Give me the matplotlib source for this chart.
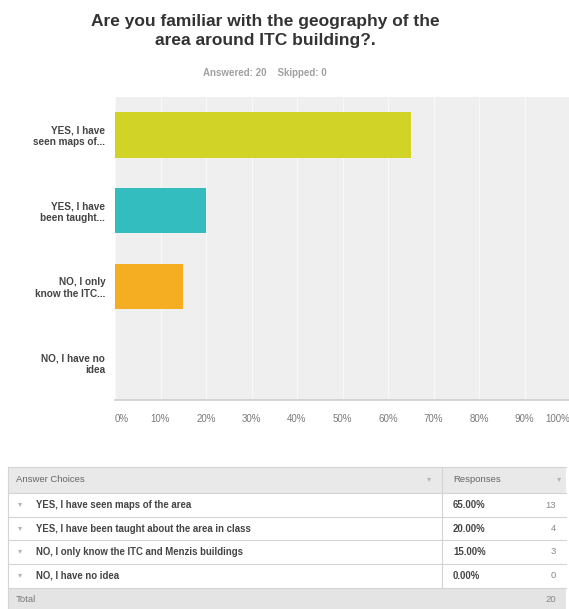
import matplotlib.pyplot as plt
from matplotlib.patches import Rectangle

plt.rcParams['font.family'] = ['Liberation Sans', 'DejaVu Sans']

W, H = 569, 609

title = 'Are you familiar with the geography of the\narea around ITC building?.'
subtitle = 'Answered: 20    Skipped: 0'

short_labels = ['YES, I have\nseen maps of...', 'YES, I have\nbeen taught...',
                'NO, I only\nknow the ITC...', 'NO, I have no\nidea']
full_labels = ['YES, I have seen maps of the area',
               'YES, I have been taught about the area in class',
               'NO, I only know the ITC and Menzis buildings',
               'NO, I have no idea']
percent = [65.0, 20.0, 15.0, 0.0]
counts = [13, 4, 3, 0]
total = 20
bar_colors = ['#d1d327', '#33bdbf', '#f5ad21', '#8e6cb0']
xticks = list(range(0, 101, 10))

fig = plt.figure(figsize=(W / 100, H / 100), dpi=100)
fig.patch.set_facecolor('white')

# bar chart area
ax = fig.add_axes([115 / W, 1 - 400 / H, 455 / W, 303 / H])
ax.set_facecolor('#efefef')
ypos = list(range(len(percent)))
ax.barh(ypos, percent, height=0.6, color=bar_colors, zorder=3)
ax.set_xlim(0, 100)
ax.set_ylim(3.5, -0.5)
ax.set_xticks(xticks)
ax.set_xticklabels([f'{t}%' for t in xticks], color='#7a7a7a', fontsize=7)
# keep the end labels inside the plot width
ax.get_xticklabels()[0].set_ha('left')
ax.get_xticklabels()[-1].set_ha('right')
ax.set_yticks(ypos)
ax.set_yticklabels(short_labels, fontsize=7.2, fontweight='bold', color='#444444',
                   linespacing=1.2)
ax.tick_params(axis='both', length=0)
ax.tick_params(axis='x', pad=10)
ax.tick_params(axis='y', pad=7)
ax.grid(axis='x', color='#f8f8f8', linewidth=1.0, zorder=1)
for s in ['top', 'right', 'left']:
    ax.spines[s].set_visible(False)
ax.spines['bottom'].set_color('#cfcfcf')
ax.spines['bottom'].set_linewidth(1.2)

fig.text(265 / W, 1 - 31 / H, title, ha='center', va='center', fontsize=12.5,
         fontweight='bold', color='#333333', linespacing=1.3)
fig.text(265 / W, 1 - 73 / H, subtitle, ha='center', va='center', fontsize=7,
         fontweight='bold', color='#a0a0a0')

# summary table below the chart, drawn in pixel coordinates
tab = fig.add_axes([0, 0, 1, 1])
tab.set_xlim(0, W)
tab.set_ylim(H, 0)
tab.axis('off')

left, right, divider = 8, 566, 442
border = '#d4d4d4'
row_edges = [467, 493, 517, 540, 564, 588, 612]

tab.add_patch(Rectangle((left, row_edges[0]), right - left, row_edges[1] - row_edges[0],
                        facecolor='#e9e9e9', edgecolor='none'))
tab.add_patch(Rectangle((left, row_edges[-2]), right - left, row_edges[-1] - row_edges[-2],
                        facecolor='#e4e4e4', edgecolor='none'))
for y in row_edges[:-1]:
    tab.plot([left, right], [y, y], color=border, linewidth=0.8)
tab.plot([left, left], [row_edges[0], row_edges[-1]], color=border, linewidth=0.8)
tab.plot([divider, divider], [row_edges[0], row_edges[-2]], color=border, linewidth=0.8)

def mid(i):
    return (row_edges[i] + row_edges[i + 1]) / 2

tab.text(16, mid(0), 'Answer Choices', fontsize=6.8, color='#666666', va='center')
tab.text(453, mid(0), 'Responses', fontsize=6.8, color='#666666', va='center')
tab.text(429, mid(0), '\u25be', fontsize=6, color='#b5b5b5', va='center', ha='center')
tab.text(559, mid(0), '\u25be', fontsize=6, color='#b5b5b5', va='center', ha='center')

for i, (lab, p, c) in enumerate(zip(full_labels, percent, counts)):
    y = mid(i + 1)
    tab.text(20, y, '\u25be', fontsize=6, color='#b5b5b5', va='center', ha='center')
    tab.text(36, y, lab, fontsize=6.9, fontweight='bold', color='#444444', va='center')
    tab.text(453, y, f'{p:.2f}%', fontsize=6.9, fontweight='bold', color='#444444',
             va='center')
    tab.text(556, y, str(c), fontsize=6.8, color='#888888', va='center', ha='right')

tab.text(16, mid(5), 'Total', fontsize=6.8, color='#777777', va='center')
tab.text(556, mid(5), str(total), fontsize=6.8, color='#888888', va='center', ha='right')

fig.savefig('out.png', dpi=100)
